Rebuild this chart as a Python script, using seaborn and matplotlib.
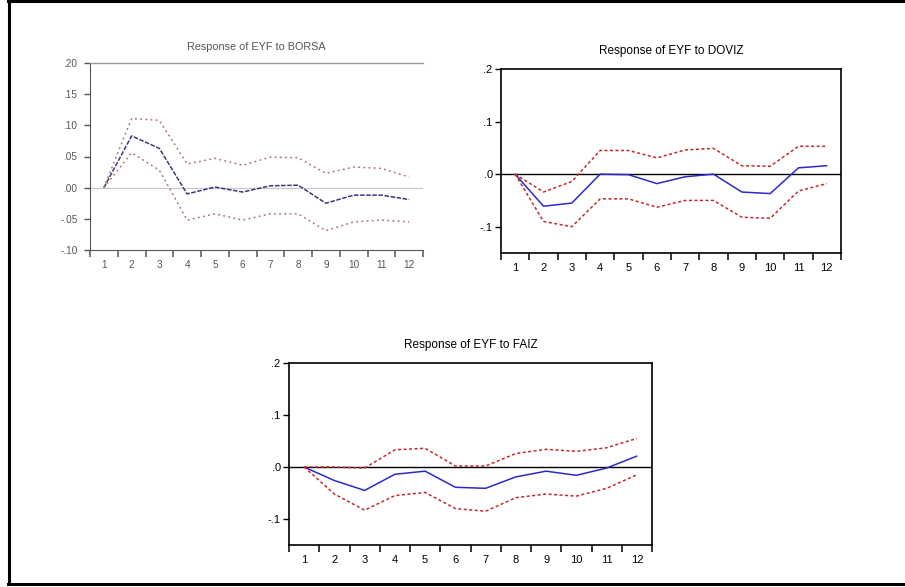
import numpy as np
import pandas as pd
import matplotlib
matplotlib.use("Agg")
import matplotlib.pyplot as plt
import seaborn as sns
from matplotlib.lines import Line2D

sns.set_style("white")
plt.rcParams['font.family'] = ['Liberation Sans', 'DejaVu Sans']

periods = list(range(1, 13))

titles = ["Response of EYF to BORSA", "Response of EYF to DOVIZ", "Response of EYF to FAIZ"]

borsa_resp = [0.0, 0.083, 0.063, -0.010, 0.001, -0.007, 0.003, 0.004, -0.025, -0.012, -0.012, -0.019]
borsa_up = [0.0, 0.111, 0.108, 0.038, 0.047, 0.036, 0.049, 0.048, 0.023, 0.033, 0.031, 0.017]
borsa_lo = [0.0, 0.056, 0.028, -0.052, -0.042, -0.052, -0.042, -0.042, -0.069, -0.055, -0.052, -0.055]

doviz_resp = [0.0, -0.061, -0.055, 0.0, -0.001, -0.018, -0.005, 0.0, -0.034, -0.037, 0.012, 0.016]
doviz_up = [0.0, -0.034, -0.014, 0.045, 0.045, 0.031, 0.046, 0.049, 0.016, 0.015, 0.053, 0.053]
doviz_lo = [0.0, -0.090, -0.100, -0.047, -0.047, -0.063, -0.050, -0.050, -0.082, -0.084, -0.032, -0.018]

faiz_resp = [0.0, -0.026, -0.045, -0.014, -0.008, -0.039, -0.041, -0.019, -0.008, -0.016, -0.002, 0.021]
faiz_up = [0.0, 0.0, -0.002, 0.033, 0.036, 0.002, 0.002, 0.026, 0.034, 0.030, 0.037, 0.055]
faiz_lo = [0.0, -0.052, -0.083, -0.055, -0.049, -0.080, -0.085, -0.059, -0.052, -0.056, -0.041, -0.015]

borsa_yticks = [-0.10, -0.05, 0.00, 0.05, 0.10, 0.15, 0.20]
borsa_ylabels = ["-.10", "-.05", ".00", ".05", ".10", ".15", ".20"]
other_yticks = [-0.1, 0.0, 0.1, 0.2]
other_ylabels = ["-.1", ".0", ".1", ".2"]

W, H = 905, 587
fig = plt.figure(figsize=(W / 100, H / 100), dpi=100)

def add_ax(l, r, t, b):
    return fig.add_axes([l / W, 1 - b / H, (r - l) / W, (b - t) / H])

def fx(px):
    return px / W

def fy(py):
    return 1 - py / H

# outer frame: left, top and bottom lines (right edge lies outside the image)
for xs, ys in [((8.5, 8.5), (0.5, 584)), ((7.5, 910), (0.8, 0.8)), ((7.5, 910), (584, 584))]:
    fig.add_artist(Line2D([fx(x) for x in xs], [fy(y) for y in ys], color='black',
                          lw=2.2, transform=fig.transFigure, solid_capstyle='projecting'))

axes = [add_ax(90, 423, 63, 250), add_ax(501, 841, 69, 253), add_ax(289, 652, 363, 545)]
data = [(borsa_resp, borsa_up, borsa_lo), (doviz_resp, doviz_up, doviz_lo), (faiz_resp, faiz_up, faiz_lo)]

for i, (ax, (resp, up, lo)) in enumerate(zip(axes, data)):
    df = pd.DataFrame({"period": periods * 3,
                       "value": resp + up + lo,
                       "series": ["resp"] * 12 + ["up"] * 12 + ["lo"] * 12})
    faded = (i == 0)
    if faded:
        cmain, cband = '#3a3a78', '#b07070'
        ls_main, ls_band = (0, (3, 1)), (0, (1.2, 2.2))
        zero_c, zero_lw = '#c8c8c8', 0.9
        spine_c, text_c = '#555555', '#555555'
    else:
        cmain, cband = '#2a2acc', '#c42a2a'
        ls_main, ls_band = '-', (0, (2, 1.6))
        zero_c, zero_lw = 'black', 1.0
        spine_c, text_c = 'black', 'black'
    ax.axhline(0, color=zero_c, lw=zero_lw, zorder=1)
    sns.lineplot(data=df[df.series == "resp"], x="period", y="value", ax=ax,
                 color=cmain, lw=1.1, linestyle=ls_main, legend=False)
    for s in ["up", "lo"]:
        sns.lineplot(data=df[df.series == s], x="period", y="value", ax=ax,
                     color=cband, lw=1.1, linestyle=ls_band, legend=False)
    ax.set_xlim(0.5, 12.5)
    if faded:
        ax.set_ylim(-0.10, 0.20)
        ax.set_yticks(borsa_yticks)
        ax.set_yticklabels(borsa_ylabels)
        ax.spines['right'].set_visible(False)
        ax.spines['top'].set_color('#999999')
        ax.spines['top'].set_linewidth(1.0)
        fs = 7.2
        ypad = 5
    else:
        ax.set_ylim(-0.15, 0.20)
        ax.set_yticks(other_yticks)
        ax.set_yticklabels(other_ylabels)
        for sp in ax.spines.values():
            sp.set_color('black')
            sp.set_linewidth(1.2)
        fs = 8
        ypad = 2
    ax.spines['left'].set_color(spine_c)
    ax.spines['bottom'].set_color(spine_c)
    ax.set_xticks(np.arange(0.5, 13, 1.0))
    ax.set_xticklabels([])
    ax.set_xticks(periods, minor=True)
    ax.set_xticklabels([str(p) for p in periods], minor=True, fontsize=fs, color=text_c)
    ax.tick_params(axis='x', which='major', direction='out', length=5, width=1.1,
                   color=spine_c, bottom=True)
    ax.tick_params(axis='x', which='minor', length=0, pad=7, bottom=True)
    ax.tick_params(axis='y', direction='out', length=4, width=1.0, color=spine_c,
                   labelsize=fs, labelcolor=text_c, left=True, pad=ypad)
    ax.set_xlabel("")
    ax.set_ylabel("")
    ax.set_title(titles[i], fontsize=8.5 if not faded else 7.8, color=text_c if faded else 'black',
                 pad=11 if not faded else 9)

fig.savefig("out.png", dpi=100)
